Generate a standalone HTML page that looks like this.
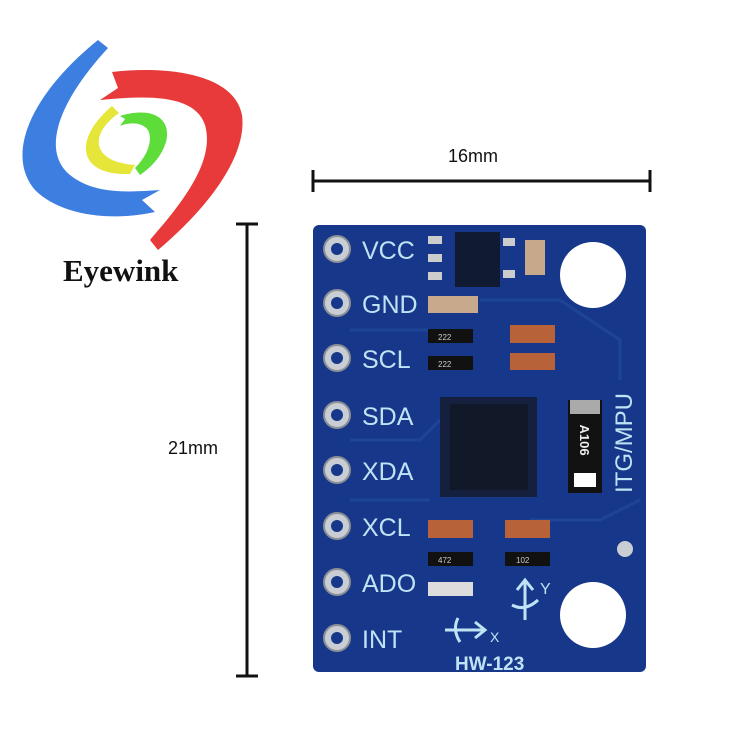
<!DOCTYPE html>
<html><head><meta charset="utf-8"><style>
body{margin:0;background:#fff;width:750px;height:750px;overflow:hidden;position:relative;font-family:"Liberation Sans",sans-serif}
.a{position:absolute}
</style></head><body>
<svg class="a" style="left:0;top:0" width="750" height="750" viewBox="0 0 750 750">
 <path d="M98 40 L108 48 C60 100 40 150 70 175 C95 195 130 192 160 190 L142 200 L155 212 C110 222 60 215 35 190 C5 155 30 95 98 40Z" fill="#3d7fe0"/>
 <path d="M112 72 C170 65 235 75 242 115 C248 160 200 215 158 250 L150 240 C185 200 215 160 205 125 C195 95 150 95 100 100 L118 88 Z" fill="#e83a3a"/>
 <path d="M112 106 L119 113 C88 135 92 162 135 165 L130 174 C78 176 72 140 112 106Z" fill="#e6e63a"/>
 <path d="M120 116 C152 106 172 118 166 142 C161 158 150 168 140 175 L135 168 C148 155 153 140 148 130 C142 122 130 122 120 126 L125 119Z" fill="#5ddc3a"/>
 <g stroke="#111" stroke-width="3">
  <line x1="313" y1="181" x2="650" y2="181"/>
  <line x1="313" y1="170" x2="313" y2="192"/>
  <line x1="650" y1="170" x2="650" y2="192"/>
  <line x1="247" y1="224" x2="247" y2="676"/>
  <line x1="236" y1="224" x2="258" y2="224"/>
  <line x1="236" y1="676" x2="258" y2="676"/>
 </g>
 <rect x="313" y="225" width="333" height="447" rx="6" fill="#17388a"/>
 <g fill="none" stroke="#20479b" stroke-width="3" opacity=".8">
  <path d="M350 330 L430 330 M350 440 L420 440 L440 420 M350 500 L430 500 M480 300 L560 300 L620 340 L620 380 M530 520 L600 520 L640 500"/>
 </g>
 <g fill="#c9cdd4" stroke="#8b8f96" stroke-width="2">
  <circle cx="337" cy="249" r="13"/><circle cx="337" cy="303" r="13"/><circle cx="337" cy="358" r="13"/><circle cx="337" cy="415" r="13"/>
  <circle cx="337" cy="470" r="13"/><circle cx="337" cy="526" r="13"/><circle cx="337" cy="582" r="13"/><circle cx="337" cy="638" r="13"/>
 </g>
 <g fill="#17388a"><circle cx="337" cy="249" r="6"/><circle cx="337" cy="303" r="6"/><circle cx="337" cy="358" r="6"/><circle cx="337" cy="415" r="6"/>
  <circle cx="337" cy="470" r="6"/><circle cx="337" cy="526" r="6"/><circle cx="337" cy="582" r="6"/><circle cx="337" cy="638" r="6"/></g>
 <g fill="#bfe3f5" font-family="Liberation Sans" font-size="25">
  <text x="362" y="259">VCC</text><text x="362" y="313">GND</text><text x="362" y="368">SCL</text><text x="362" y="425">SDA</text>
  <text x="362" y="480">XDA</text><text x="362" y="536">XCL</text><text x="362" y="592">ADO</text><text x="362" y="648">INT</text>
 </g>
 <circle cx="593" cy="275" r="33" fill="#fff"/>
 <circle cx="593" cy="615" r="33" fill="#fff"/>
 <circle cx="625" cy="549" r="8" fill="#c9cdd4"/>
 <rect x="455" y="232" width="45" height="55" fill="#111a33"/>
 <g fill="#ccc"><rect x="428" y="236" width="14" height="8"/><rect x="428" y="254" width="14" height="8"/><rect x="428" y="272" width="14" height="8"/>
  <rect x="503" y="238" width="12" height="8"/><rect x="503" y="270" width="12" height="8"/></g>
 <rect x="525" y="240" width="20" height="35" fill="#c8a88a"/>
 <g>
  <rect x="428" y="296" width="50" height="17" fill="#c9a98c"/>
  <rect x="428" y="329" width="45" height="14" fill="#111"/><rect x="510" y="325" width="45" height="18" fill="#b8623a"/>
  <rect x="428" y="356" width="45" height="14" fill="#111"/><rect x="510" y="353" width="45" height="17" fill="#b8623a"/>
  <rect x="428" y="520" width="45" height="18" fill="#b8623a"/><rect x="505" y="520" width="45" height="18" fill="#b8623a"/>
  <rect x="428" y="552" width="45" height="14" fill="#111"/><rect x="505" y="552" width="45" height="14" fill="#111"/>
  <rect x="428" y="582" width="45" height="14" fill="#ddd"/>
 </g>
 <g fill="#ccc" font-size="8"><text x="438" y="340">222</text><text x="438" y="367">222</text><text x="438" y="563">472</text><text x="516" y="563">102</text></g>
 <rect x="440" y="397" width="97" height="100" fill="#15203e"/>
 <rect x="450" y="404" width="78" height="86" fill="#111827"/>
 <rect x="568" y="400" width="34" height="93" fill="#121212"/>
 <rect x="570" y="400" width="30" height="14" fill="#aaa"/>
 <rect x="574" y="473" width="22" height="14" fill="#fff"/>
 <text x="0" y="0" transform="translate(580,440) rotate(90)" fill="#eee" font-size="13" font-weight="bold" text-anchor="middle">A106</text>
 <text x="0" y="0" transform="translate(632,443) rotate(-90)" fill="#bfe3f5" font-size="24" text-anchor="middle">ITG/MPU</text>
 <g stroke="#bfe3f5" stroke-width="3" fill="none">
  <path d="M525 620 L525 580 M517 590 L525 580 L533 590 M512 605 Q525 612 538 600"/>
  <path d="M445 630 L485 630 M475 622 L485 630 L475 638 M458 618 Q452 630 460 642"/>
 </g>
 <text x="540" y="594" fill="#bfe3f5" font-size="16">Y</text>
 <text x="490" y="642" fill="#bfe3f5" font-size="14">X</text>
 <text x="455" y="670" fill="#bfe3f5" font-size="19" font-weight="bold">HW-123</text>
</svg>
<div class="a" style="left:448px;top:146px;font-size:18px;color:#111">16mm</div>
<div class="a" style="left:168px;top:438px;font-size:18px;color:#111">21mm</div>
<div class="a" style="left:63px;top:253px;font-size:31px;font-weight:bold;font-family:'Liberation Serif',serif;color:#111">Eyewink</div>
</body></html>
